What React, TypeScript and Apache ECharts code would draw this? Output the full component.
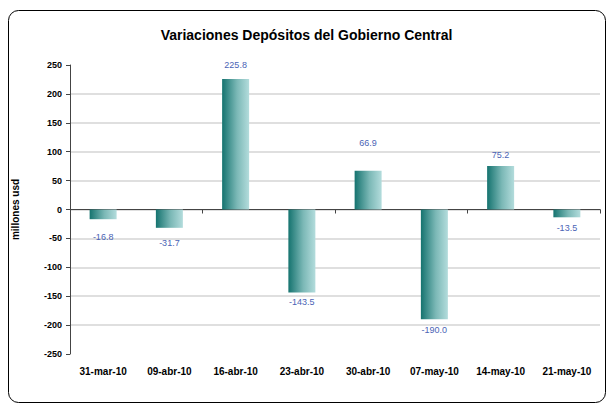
import React, { useEffect, useRef } from "react";
import * as echarts from "echarts";

const categories = ["31-mar-10", "09-abr-10", "16-abr-10", "23-abr-10", "30-abr-10", "07-may-10", "14-may-10", "21-may-10"];
const values = [-16.8, -31.7, 225.8, -143.5, 66.9, -190.0, 75.2, -13.5];
const yMin = -250;
const yMax = 250;
const yStep = 50;
// label gaps (px) between bar end and its value label, as placed in the reference
const labelGaps = [13, 11, 9, 5, 23, 6, 7, 6];

export default function App() {
  const ref = useRef<HTMLDivElement>(null);
  useEffect(() => {
    const chart = echarts.init(ref.current!, null, { renderer: "svg" });
    const font = "'Liberation Sans', Arial, sans-serif";
    chart.setOption({
      animation: false,
      backgroundColor: "#ffffff",
      textStyle: { fontFamily: font },
      title: {
        text: "Variaciones Depósitos del Gobierno Central",
        left: "center",
        top: 23,
        textStyle: { fontFamily: font, fontSize: 14, fontWeight: "bold", color: "#000" },
      },
      graphic: [
        {
          type: "rect",
          shape: { x: 8.5, y: 10.5, width: 597, height: 392, r: 10 },
          style: { fill: "none", stroke: "#000", lineWidth: 1 },
          silent: true,
          z: 100,
        },
      ],
      grid: { left: 70, right: 13, top: 65, bottom: 51, containLabel: false },
      xAxis: [
        {
          type: "category",
          data: categories,
          axisLine: { onZero: true, lineStyle: { color: "#444", width: 1 } },
          axisTick: { show: true, length: 4, lineStyle: { color: "#444" } },
          axisLabel: { show: false },
          splitLine: { show: false },
        },
        {
          type: "category",
          data: categories,
          position: "bottom",
          axisLine: { show: false, onZero: false },
          axisTick: { show: false },
          axisLabel: { show: true, fontFamily: font, fontSize: 10, fontWeight: "bold", color: "#000", margin: 12 },
          splitLine: { show: false },
        },
      ],
      yAxis: {
        type: "value",
        min: yMin,
        max: yMax,
        interval: yStep,
        name: "millones usd",
        nameLocation: "middle",
        nameGap: 50,
        nameRotate: 90,
        nameTextStyle: { fontFamily: font, fontSize: 10, fontWeight: "bold", color: "#000" },
        axisLine: { show: true, lineStyle: { color: "#444" } },
        axisTick: { show: true, length: 4, lineStyle: { color: "#444" } },
        axisLabel: { fontFamily: font, fontSize: 9, fontWeight: "bold", color: "#000", margin: 8 },
        splitLine: { show: true, showMinLine: false, showMaxLine: false, lineStyle: { color: "#d4d4d4", width: 1.5 } },
      },
      series: [
        {
          type: "bar",
          xAxisIndex: 0,
          data: values.map((v, i) => ({
            value: v,
            label: { position: v >= 0 ? "top" : "bottom", distance: labelGaps[i] },
          })),
          barWidth: 27,
          itemStyle: {
            color: new echarts.graphic.LinearGradient(0, 0, 1, 0, [
              { offset: 0, color: "#15736f" },
              { offset: 0.55, color: "#7bb8b6" },
              { offset: 1, color: "#b3dcdc" },
            ]),
          },
          label: {
            show: true,
            formatter: (p: any) => Number(p.value).toFixed(1),
            fontFamily: font,
            fontSize: 9,
            color: "#4a63b5",
          },
        },
      ],
    });
    return () => chart.dispose();
  }, []);
  return <div ref={ref} style={{ position: "fixed", left: 0, top: 0, width: 613, height: 405 }} />;
}
